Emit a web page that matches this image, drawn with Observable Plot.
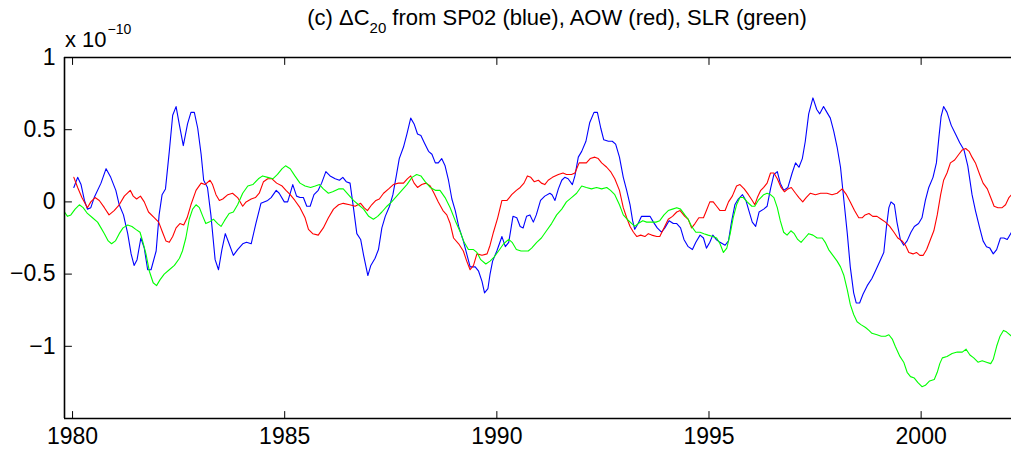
<!DOCTYPE html>
<html><head><meta charset="utf-8">
<script src="https://cdn.jsdelivr.net/npm/d3@7"></script>
<script src="https://cdn.jsdelivr.net/npm/@observablehq/plot@0.6"></script>
<style>
body{margin:0;background:#fff;}
#wrap{position:relative;width:1011px;height:457px;overflow:hidden;font-family:"Liberation Sans",Arial,Helvetica,sans-serif;color:#000;}
#wrap svg{position:absolute;left:0;top:0;}
#title{position:absolute;left:0;width:1114px;top:6px;text-align:center;font-size:22px;line-height:24px;white-space:nowrap;}
#title sub{font-size:15px;position:relative;top:8px;vertical-align:baseline;}
#expo{position:absolute;left:65px;top:29px;font-size:22px;line-height:22px;white-space:nowrap;}
#expo sup{font-size:14px;position:relative;top:-13px;vertical-align:baseline;margin-left:1px;}
</style></head>
<body>
<div id="wrap"></div>
<script>
const titleText = ["(c) ΔC", "20", " from SP02 (blue), AOW (red), SLR (green)"];
const yExponent = ["x 10", "−10"];
const xTicks = [1980, 1985, 1990, 1995, 2000];
const yTicks = [1, 0.5, 0, -0.5, -1];
const xDomain = [1979.81, 2002.13];
const yDomain = [-1.5, 1];

// SP02 (blue): [year, value x 1e-10]
const blueSP02 = [[1980.03,0.10],[1980.12,0.17],[1980.2,0.12],[1980.28,0.01],[1980.35,-0.05],[1980.43,-0.04],[1980.51,0.03],[1980.67,0.13],[1980.79,0.23],[1980.9,0.17],[1981.02,0.08],[1981.1,-0.02],[1981.2,-0.09],[1981.3,-0.22],[1981.38,-0.36],[1981.45,-0.44],[1981.52,-0.40],[1981.61,-0.25],[1981.69,-0.32],[1981.77,-0.47],[1981.85,-0.47],[1981.97,-0.34],[1982.04,-0.09],[1982.11,0.05],[1982.19,0.09],[1982.28,0.35],[1982.36,0.60],[1982.44,0.66],[1982.52,0.53],[1982.61,0.39],[1982.71,0.54],[1982.79,0.62],[1982.87,0.62],[1982.95,0.51],[1983.03,0.33],[1983.09,0.15],[1983.18,0.10],[1983.26,-0.09],[1983.36,-0.40],[1983.44,-0.47],[1983.52,-0.33],[1983.6,-0.22],[1983.69,-0.29],[1983.79,-0.37],[1983.89,-0.33],[1984.01,-0.29],[1984.1,-0.28],[1984.21,-0.29],[1984.32,-0.15],[1984.44,-0.01],[1984.6,0.01],[1984.68,0.03],[1984.8,0.08],[1984.87,0.06],[1984.99,0.00],[1985.07,0.00],
[1985.19,0.12],[1985.28,0.04],[1985.36,0.03],[1985.44,0.03],[1985.52,-0.03],[1985.6,-0.03],[1985.69,0.05],[1985.79,0.08],[1985.87,0.13],[1985.97,0.21],[1986.07,0.18],[1986.19,0.16],[1986.29,0.15],[1986.37,0.17],[1986.45,0.14],[1986.54,0.13],[1986.62,-0.04],[1986.7,-0.22],[1986.79,-0.26],[1986.86,-0.37],[1986.96,-0.51],[1987.03,-0.44],[1987.13,-0.39],[1987.21,-0.33],[1987.29,-0.18],[1987.37,-0.10],[1987.47,-0.03],[1987.55,0.05],[1987.63,0.18],[1987.7,0.30],[1987.8,0.38],[1987.88,0.47],[1987.97,0.58],[1988.05,0.54],[1988.13,0.47],[1988.21,0.46],[1988.29,0.41],[1988.39,0.35],[1988.47,0.33],[1988.55,0.27],[1988.62,0.27],[1988.7,0.30],[1988.78,0.25],[1988.86,0.15],[1988.94,0.02],[1989.02,-0.06],[1989.1,-0.17],[1989.21,-0.27],[1989.29,-0.36],[1989.37,-0.45],[1989.49,-0.45],[1989.57,-0.48],[1989.65,-0.55],[1989.71,-0.63],[1989.79,-0.60],[1989.84,-0.50],[1989.9,-0.41],[1990.0,-0.34],[1990.12,-0.24],[1990.2,-0.31],[1990.28,-0.28],[1990.38,-0.10],[1990.47,-0.11],
[1990.55,-0.17],[1990.62,-0.18],[1990.7,-0.10],[1990.78,-0.09],[1990.86,-0.14],[1990.93,-0.09],[1991.03,0.01],[1991.13,0.04],[1991.25,0.06],[1991.3,0.05],[1991.37,0.01],[1991.45,0.09],[1991.53,0.15],[1991.6,0.17],[1991.68,0.16],[1991.78,0.12],[1991.84,0.18],[1991.92,0.31],[1992.0,0.35],[1992.1,0.42],[1992.19,0.55],[1992.29,0.62],[1992.37,0.62],[1992.45,0.51],[1992.52,0.43],[1992.63,0.42],[1992.72,0.42],[1992.8,0.40],[1992.89,0.31],[1992.98,0.17],[1993.06,0.08],[1993.14,-0.02],[1993.2,-0.13],[1993.25,-0.19],[1993.33,-0.15],[1993.41,-0.10],[1993.51,-0.10],[1993.61,-0.10],[1993.69,-0.14],[1993.78,-0.18],[1993.88,-0.21],[1993.96,-0.18],[1994.06,-0.13],[1994.16,-0.15],[1994.24,-0.15],[1994.33,-0.18],[1994.41,-0.26],[1994.51,-0.31],[1994.61,-0.33],[1994.69,-0.28],[1994.79,-0.23],[1994.87,-0.25],[1994.94,-0.32],[1995.02,-0.28],[1995.09,-0.23],[1995.17,-0.26],[1995.26,-0.28],[1995.38,-0.30],[1995.46,-0.27],[1995.53,-0.14],[1995.61,-0.02],[1995.69,0.02],[1995.79,0.05],[1995.87,0.01],[1995.94,-0.06],[1996.02,-0.14],[1996.1,-0.17],[1996.18,-0.07],
[1996.29,-0.05],[1996.37,-0.03],[1996.45,0.09],[1996.53,0.19],[1996.61,0.21],[1996.68,0.13],[1996.76,0.08],[1996.86,0.10],[1996.96,0.20],[1997.04,0.27],[1997.12,0.24],[1997.2,0.30],[1997.27,0.42],[1997.35,0.61],[1997.45,0.72],[1997.54,0.64],[1997.61,0.61],[1997.7,0.66],[1997.78,0.62],[1997.86,0.58],[1997.94,0.49],[1998.02,0.38],[1998.1,0.24],[1998.18,0.01],[1998.26,-0.22],[1998.33,-0.45],[1998.41,-0.63],[1998.47,-0.70],[1998.55,-0.70],[1998.63,-0.64],[1998.73,-0.58],[1998.84,-0.53],[1998.92,-0.48],[1999.03,-0.41],[1999.12,-0.35],[1999.18,-0.18],[1999.24,-0.04],[1999.29,0.00],[1999.37,-0.02],[1999.43,-0.14],[1999.51,-0.26],[1999.59,-0.30],[1999.67,-0.27],[1999.76,-0.21],[1999.84,-0.17],[1999.94,-0.15],[2000.02,-0.11],[2000.1,0.01],[2000.18,0.10],[2000.28,0.17],[2000.36,0.27],[2000.42,0.45],[2000.47,0.59],[2000.53,0.66],[2000.61,0.62],[2000.71,0.53],[2000.81,0.47],[2000.91,0.41],[2001.01,0.36],[2001.1,0.25],[2001.2,0.05],[2001.28,-0.06],[2001.38,-0.18],[2001.46,-0.27],[2001.54,-0.31],[2001.62,-0.32],[2001.7,-0.36],[2001.78,-0.33],[2001.87,-0.25],[2001.95,-0.25],[2002.03,-0.26],[2002.13,-0.21]];

// AOW (red)
const redAOW = [[1980.03,0.17],[1980.12,0.10],[1980.22,0.03],[1980.35,-0.04],[1980.43,0.00],[1980.53,0.03],[1980.63,0.01],[1980.75,-0.04],[1980.86,-0.09],[1980.98,-0.06],[1981.1,-0.02],[1981.22,0.04],[1981.36,0.08],[1981.43,0.04],[1981.51,0.02],[1981.6,0.04],[1981.69,0.00],[1981.79,-0.07],[1981.93,-0.11],[1982.03,-0.14],[1982.12,-0.21],[1982.2,-0.27],[1982.28,-0.28],[1982.36,-0.24],[1982.44,-0.18],[1982.53,-0.15],[1982.62,-0.16],[1982.7,-0.11],[1982.79,-0.02],[1982.91,0.08],[1983.03,0.13],[1983.12,0.12],[1983.24,0.15],[1983.3,0.12],[1983.38,0.05],[1983.46,0.01],[1983.54,0.02],[1983.66,0.05],[1983.77,0.06],[1983.89,0.03],[1984.01,-0.03],[1984.09,0.00],[1984.21,0.02],[1984.31,0.03],[1984.4,0.06],[1984.5,0.14],[1984.6,0.16],[1984.7,0.16],[1984.81,0.13],[1984.94,0.11],[1985.03,0.08],
[1985.13,0.05],[1985.24,0.01],[1985.36,-0.04],[1985.48,-0.11],[1985.56,-0.19],[1985.66,-0.22],[1985.79,-0.23],[1985.91,-0.18],[1986.03,-0.11],[1986.15,-0.05],[1986.27,-0.02],[1986.38,-0.01],[1986.53,-0.02],[1986.66,-0.03],[1986.79,-0.01],[1986.87,-0.04],[1986.95,-0.06],[1987.05,-0.02],[1987.15,0.01],[1987.23,0.02],[1987.33,0.06],[1987.45,0.09],[1987.56,0.12],[1987.68,0.13],[1987.8,0.13],[1987.89,0.16],[1987.97,0.18],[1988.05,0.13],[1988.13,0.10],[1988.23,0.12],[1988.33,0.13],[1988.43,0.11],[1988.52,0.06],[1988.62,0.00],[1988.73,-0.06],[1988.82,-0.09],[1988.9,-0.15],[1988.98,-0.25],[1989.1,-0.29],[1989.21,-0.34],[1989.29,-0.41],[1989.37,-0.47],[1989.45,-0.44],[1989.53,-0.36],[1989.65,-0.37],[1989.77,-0.36],[1989.84,-0.30],[1989.92,-0.21],[1990.02,-0.11],[1990.12,0.01],[1990.24,0.01],[1990.35,0.05],[1990.46,0.08],
[1990.55,0.10],[1990.64,0.13],[1990.72,0.18],[1990.8,0.17],[1990.88,0.14],[1990.98,0.15],[1991.05,0.13],[1991.13,0.12],[1991.21,0.15],[1991.31,0.17],[1991.45,0.19],[1991.56,0.20],[1991.64,0.19],[1991.76,0.19],[1991.84,0.20],[1991.94,0.27],[1992.03,0.27],[1992.11,0.27],[1992.2,0.30],[1992.31,0.31],[1992.39,0.30],[1992.47,0.27],[1992.59,0.24],[1992.68,0.21],[1992.78,0.16],[1992.89,0.08],[1992.98,-0.04],[1993.06,-0.11],[1993.14,-0.17],[1993.22,-0.21],[1993.3,-0.24],[1993.39,-0.23],[1993.49,-0.24],[1993.57,-0.22],[1993.65,-0.23],[1993.77,-0.24],[1993.84,-0.24],[1993.94,-0.18],[1994.04,-0.12],[1994.14,-0.10],[1994.24,-0.07],[1994.32,-0.06],[1994.43,-0.10],[1994.51,-0.12],[1994.59,-0.18],[1994.67,-0.15],[1994.76,-0.11],[1994.87,-0.11],[1994.94,-0.06],[1995.02,0.00],[1995.1,0.00],[1995.18,-0.03],[1995.26,-0.06],[1995.38,-0.06],[1995.46,0.00],[1995.55,0.04],[1995.65,0.11],[1995.73,0.12],[1995.83,0.09],[1995.93,0.05],[1996.02,0.01],[1996.08,-0.02],[1996.14,0.03],[1996.22,0.08],
[1996.29,0.10],[1996.37,0.13],[1996.45,0.20],[1996.53,0.20],[1996.61,0.16],[1996.7,0.10],[1996.78,0.07],[1996.86,0.09],[1996.94,0.10],[1997.04,0.06],[1997.12,0.03],[1997.21,0.00],[1997.29,0.03],[1997.39,0.06],[1997.51,0.05],[1997.63,0.06],[1997.78,0.06],[1997.9,0.05],[1998.02,0.06],[1998.14,0.09],[1998.24,0.05],[1998.33,0.00],[1998.43,-0.06],[1998.53,-0.11],[1998.61,-0.11],[1998.68,-0.09],[1998.77,-0.08],[1998.86,-0.10],[1998.96,-0.10],[1999.06,-0.12],[1999.16,-0.14],[1999.26,-0.17],[1999.36,-0.21],[1999.45,-0.25],[1999.55,-0.27],[1999.63,-0.30],[1999.71,-0.35],[1999.81,-0.36],[1999.89,-0.35],[1999.97,-0.37],[2000.05,-0.37],[2000.13,-0.33],[2000.22,-0.26],[2000.3,-0.20],[2000.38,-0.09],[2000.46,0.05],[2000.53,0.15],[2000.61,0.20],[2000.69,0.27],[2000.79,0.29],[2000.89,0.33],[2000.97,0.36],[2001.05,0.37],[2001.13,0.35],[2001.2,0.31],[2001.28,0.27],[2001.38,0.19],[2001.46,0.13],[2001.56,0.09],[2001.64,0.03],[2001.72,-0.03],[2001.81,-0.04],[2001.91,-0.04],[2001.99,-0.02],[2002.07,0.03],[2002.13,0.05]];

// SLR (green)
const greenSLR = [[1979.81,-0.07],[1979.88,-0.10],[1979.96,-0.09],[1980.06,-0.05],[1980.16,-0.02],[1980.25,-0.04],[1980.35,-0.08],[1980.47,-0.11],[1980.59,-0.14],[1980.67,-0.18],[1980.75,-0.22],[1980.84,-0.27],[1980.92,-0.29],[1981.01,-0.27],[1981.1,-0.22],[1981.19,-0.18],[1981.3,-0.16],[1981.4,-0.17],[1981.49,-0.19],[1981.59,-0.21],[1981.65,-0.27],[1981.73,-0.36],[1981.81,-0.48],[1981.9,-0.56],[1981.98,-0.58],[1982.06,-0.54],[1982.16,-0.50],[1982.28,-0.47],[1982.4,-0.44],[1982.52,-0.39],[1982.59,-0.34],[1982.67,-0.25],[1982.75,-0.12],[1982.83,-0.05],[1982.91,-0.02],[1982.99,-0.04],[1983.07,-0.10],[1983.14,-0.15],[1983.22,-0.14],[1983.32,-0.12],[1983.42,-0.15],[1983.5,-0.17],[1983.58,-0.13],[1983.69,-0.08],[1983.79,-0.07],[1983.89,-0.02],[1984.01,0.06],[1984.13,0.11],[1984.25,0.12],[1984.38,0.16],[1984.48,0.18],[1984.6,0.17],[1984.72,0.16],[1984.83,0.19],[1984.94,0.23],[1985.02,0.25],
[1985.13,0.23],[1985.24,0.18],[1985.36,0.13],[1985.48,0.11],[1985.61,0.10],[1985.72,0.11],[1985.82,0.12],[1985.91,0.09],[1986.03,0.06],[1986.13,0.07],[1986.27,0.09],[1986.38,0.09],[1986.5,0.05],[1986.62,0.01],[1986.74,-0.02],[1986.86,-0.05],[1986.98,-0.10],[1987.09,-0.12],[1987.19,-0.10],[1987.29,-0.07],[1987.41,-0.03],[1987.52,0.00],[1987.64,0.04],[1987.76,0.08],[1987.88,0.12],[1988.0,0.17],[1988.11,0.19],[1988.21,0.18],[1988.31,0.14],[1988.43,0.10],[1988.55,0.08],[1988.66,0.08],[1988.78,0.03],[1988.9,-0.04],[1989.02,-0.13],[1989.14,-0.21],[1989.23,-0.28],[1989.33,-0.33],[1989.45,-0.33],[1989.53,-0.35],[1989.62,-0.40],[1989.74,-0.43],[1989.84,-0.41],[1989.94,-0.38],[1990.04,-0.34],[1990.16,-0.29],[1990.28,-0.26],[1990.36,-0.28],[1990.46,-0.33],
[1990.57,-0.34],[1990.74,-0.34],[1990.82,-0.32],[1990.94,-0.28],[1991.05,-0.25],[1991.17,-0.20],[1991.29,-0.15],[1991.41,-0.09],[1991.53,-0.05],[1991.64,0.00],[1991.76,0.03],[1991.88,0.06],[1992.0,0.11],[1992.11,0.10],[1992.23,0.09],[1992.35,0.10],[1992.47,0.09],[1992.59,0.10],[1992.68,0.08],[1992.78,0.05],[1992.89,-0.02],[1992.98,-0.09],[1993.07,-0.12],[1993.18,-0.15],[1993.25,-0.17],[1993.33,-0.15],[1993.44,-0.13],[1993.53,-0.14],[1993.65,-0.14],[1993.75,-0.14],[1993.84,-0.13],[1993.94,-0.09],[1994.04,-0.06],[1994.14,-0.05],[1994.24,-0.04],[1994.33,-0.05],[1994.43,-0.09],[1994.51,-0.12],[1994.59,-0.17],[1994.69,-0.21],[1994.79,-0.21],[1994.88,-0.22],[1994.98,-0.23],[1995.09,-0.24],[1995.18,-0.25],[1995.26,-0.29],[1995.34,-0.35],[1995.42,-0.32],[1995.5,-0.22],[1995.57,-0.11],[1995.65,-0.02],[1995.73,0.03],[1995.81,0.03],[1995.9,0.00],[1996.01,-0.03],[1996.08,-0.03],[1996.16,0.01],
[1996.29,0.05],[1996.37,0.06],[1996.45,0.05],[1996.53,0.03],[1996.61,-0.04],[1996.68,-0.13],[1996.76,-0.21],[1996.84,-0.23],[1996.93,-0.20],[1997.01,-0.22],[1997.09,-0.26],[1997.17,-0.28],[1997.26,-0.25],[1997.35,-0.22],[1997.45,-0.23],[1997.55,-0.25],[1997.67,-0.25],[1997.74,-0.28],[1997.82,-0.33],[1997.92,-0.37],[1998.02,-0.41],[1998.1,-0.45],[1998.18,-0.51],[1998.26,-0.61],[1998.33,-0.71],[1998.41,-0.78],[1998.49,-0.83],[1998.58,-0.85],[1998.69,-0.87],[1998.77,-0.89],[1998.84,-0.91],[1998.96,-0.92],[1999.06,-0.93],[1999.16,-0.93],[1999.24,-0.92],[1999.32,-0.95],[1999.39,-1.00],[1999.5,-1.07],[1999.59,-1.11],[1999.67,-1.18],[1999.75,-1.21],[1999.84,-1.22],[1999.92,-1.25],[2000.02,-1.28],[2000.1,-1.27],[2000.2,-1.24],[2000.31,-1.23],[2000.38,-1.18],[2000.44,-1.12],[2000.5,-1.08],[2000.61,-1.07],[2000.73,-1.05],[2000.85,-1.04],[2000.97,-1.04],[2001.06,-1.02],[2001.15,-1.06],[2001.24,-1.08],[2001.34,-1.11],[2001.44,-1.10],[2001.54,-1.11],[2001.64,-1.12],[2001.7,-1.09],[2001.78,-1.00],[2001.86,-0.93],[2001.94,-0.89],[2002.01,-0.90],[2002.13,-0.93]];

const seriesColors = {SP02: "#0000ff", AOW: "#ff0000", SLR: "#00ff00"};

const tickLine = {draw(ctx, l) { ctx.moveTo(0, 0); ctx.lineTo(0, -l); }};
const fontFamily = '"Liberation Sans", Arial, Helvetica, sans-serif';
const toRows = (arr) => arr.map(([t, v]) => ({t, v}));

const chart = Plot.plot({
  width: 1011,
  height: 457,
  marginTop: 57,
  marginBottom: 39,
  marginLeft: 64,
  marginRight: 0,
  style: {fontFamily, background: "white", overflow: "visible"},
  x: {domain: xDomain, axis: null},
  y: {domain: yDomain, axis: null},
  marks: [
    Plot.line(toRows(blueSP02), {x: "t", y: "v", stroke: seriesColors.SP02, strokeWidth: 1.1, clip: true}),
    Plot.line(toRows(redAOW), {x: "t", y: "v", stroke: seriesColors.AOW, strokeWidth: 1.1, clip: true}),
    Plot.line(toRows(greenSLR), {x: "t", y: "v", stroke: seriesColors.SLR, strokeWidth: 1.1, clip: true}),
    // axis frame (top, bottom, left)
    Plot.ruleY([yDomain[0], yDomain[1]], {stroke: "black", strokeWidth: 1.6}),
    Plot.ruleX([xDomain[0]], {stroke: "black", strokeWidth: 1.6}),
    // inward ticks
    Plot.vector(xTicks, {x: d => d, frameAnchor: "bottom", anchor: "start", length: 7, rotate: 0, shape: tickLine, stroke: "black", strokeWidth: 1}),
    Plot.vector(xTicks, {x: d => d, frameAnchor: "top", anchor: "start", length: 7, rotate: 180, shape: tickLine, stroke: "black", strokeWidth: 1}),
    Plot.vector(yTicks, {y: d => d, frameAnchor: "left", anchor: "start", length: 7, rotate: 90, shape: tickLine, stroke: "black", strokeWidth: 1}),
    // tick labels
    Plot.axisX({ticks: xTicks, tickSize: 0, tickPadding: 9, label: null, tickFormat: d => String(d), fontSize: 23, fill: "black"}),
    Plot.axisY({ticks: yTicks, tickSize: 0, tickPadding: 9, label: null, tickFormat: d => (d < 0 ? "−" : "") + String(Math.abs(d)), fontSize: 23, fill: "black"})
  ]
});

const wrap = document.getElementById("wrap");
wrap.appendChild(chart);
const title = document.createElement("div");
title.id = "title";
title.append(titleText[0]);
const sub = document.createElement("sub"); sub.textContent = titleText[1];
title.append(sub, titleText[2]);
wrap.appendChild(title);
const expo = document.createElement("div");
expo.id = "expo";
expo.append(yExponent[0]);
const sup = document.createElement("sup"); sup.textContent = yExponent[1];
expo.append(sup);
wrap.appendChild(expo);
</script>
</body></html>
